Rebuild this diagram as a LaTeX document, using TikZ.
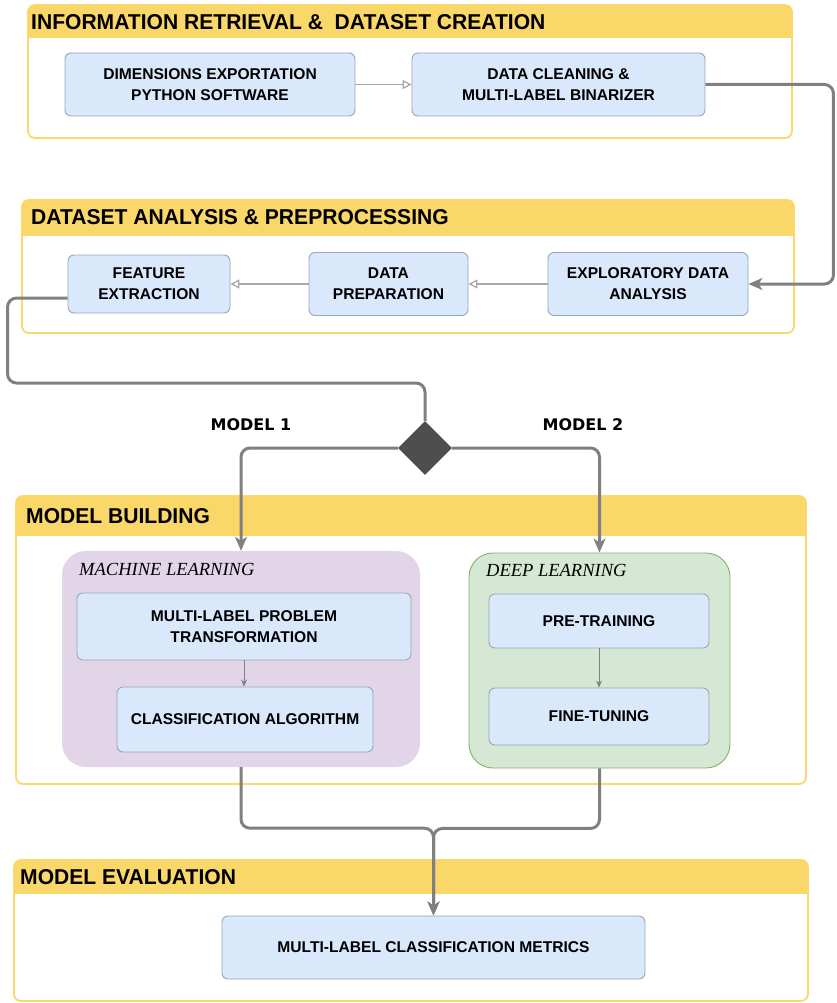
\documentclass[tikz,border=0pt]{standalone}
\usepackage{fontspec}
\setmainfont{Liberation Sans}
\newfontfamily\hdfont{Liberation Sans}[FakeStretch=0.98]
\newfontfamily\tms{Liberation Serif}
\newfontfamily\dvs{DejaVu Sans}
\usetikzlibrary{arrows.meta,shapes.geometric}
\definecolor{hdr}{HTML}{FAD769}
\definecolor{secline}{HTML}{F7D96E}
\definecolor{boxfill}{HTML}{DAE8FC}
\definecolor{boxline}{HTML}{98A6B8}
\definecolor{mlfill}{HTML}{E1D5E7}
\definecolor{dlfill}{HTML}{D5E8D4}
\definecolor{dlline}{HTML}{82B366}
\definecolor{conn}{HTML}{808080}
\definecolor{lightc}{HTML}{A8A8A8}
\definecolor{dia}{HTML}{4D4D4D}
\begin{document}
\begin{tikzpicture}[x=1pt,y=-1pt,
 blk/.style={draw=boxline, fill=boxfill, rounded corners=6pt, line width=0.9pt, align=center,
   font=\fontsize{15.6}{21}\selectfont\bfseries, inner sep=0pt},
 sec/.style={draw=secline, line width=1.8pt, rounded corners=7pt, inner sep=0pt},
 ttl/.style={font=\hdfont\fontsize{21.5}{24}\selectfont\bfseries, anchor=west, inner sep=0pt},
 grp/.style={rounded corners=24pt, inner sep=0pt},
 flow/.style={draw=conn, line width=3pt, rounded corners=9pt},
 flowarr/.style={flow, -{Stealth[length=14pt,width=12pt,inset=4pt]}},
 lightarr/.style={draw=lightc, line width=1.3pt, -{Triangle[open,length=9pt,width=9pt]}},
 smallarr/.style={draw=conn, line width=1pt, -{Stealth[length=7pt,width=6pt]}},
 mlabel/.style={font=\dvs\bfseries\fontsize{16}{18}\selectfont, inner sep=0pt},
 glabel/.style={font=\tms\itshape\fontsize{18.5}{20}\selectfont, anchor=west, inner sep=0pt},
]
\useasboundingbox (0,0) rectangle (837,1003);

% ---------- Section 1 ----------
\node[sec, minimum width=764pt, minimum height=133pt] (s1) at (410,71.5) {};
\begin{scope}\clip (26,3) rectangle (794,38);
\fill[hdr, rounded corners=7pt] (28,5) rectangle (792,80);\end{scope}
\node[ttl] (t1) at (31,22) {INFORMATION RETRIEVAL \&\ \ DATASET CREATION};
\node[blk, minimum width=290pt, minimum height=63pt] (dim) at (210,84.5) {DIMENSIONS EXPORTATION\\PYTHON SOFTWARE};
\node[blk, minimum width=293pt, minimum height=63pt] (dc) at (558.5,84.5) {DATA CLEANING \&\\MULTI-LABEL BINARIZER};

% ---------- Section 2 ----------
\node[sec, minimum width=772pt, minimum height=133pt] (s2) at (408,266.5) {};
\begin{scope}\clip (20,198) rectangle (796,235);
\fill[hdr, rounded corners=7pt] (22,200) rectangle (794,280);\end{scope}
\node[ttl] (t2) at (31,217) {DATASET ANALYSIS \& PREPROCESSING};
\node[blk, minimum width=162pt, minimum height=58pt] (fe) at (149,284) {FEATURE\\EXTRACTION};
\node[blk, minimum width=159pt, minimum height=63pt] (dp) at (388.5,284) {DATA\\PREPARATION};
\node[blk, minimum width=200pt, minimum height=63pt] (eda) at (648,284) {EXPLORATORY DATA\\ANALYSIS};

% ---------- Section 3 ----------
\node[sec, minimum width=790pt, minimum height=288pt] (s3) at (411,640) {};
\begin{scope}\clip (14,494) rectangle (808,535);
\fill[hdr, rounded corners=7pt] (16,496) rectangle (806,580);\end{scope}
\node[ttl] (t3) at (26,516) {MODEL BUILDING};

\node[grp, fill=mlfill, minimum width=358pt, minimum height=216pt] (ml) at (241,659) {};
\node[grp, fill=dlfill, draw=dlline, line width=0.9pt, minimum width=261pt, minimum height=215pt] (dl) at (599.5,660.5) {};
\node[glabel] (mlt) at (79,569) {MACHINE LEARNING};
\node[glabel] (dlt) at (486,570) {DEEP LEARNING};

\node[blk, minimum width=334pt, minimum height=67pt] (mlpt) at (244,626.5) {MULTI-LABEL PROBLEM\\TRANSFORMATION};
\node[blk, minimum width=256pt, minimum height=65pt] (ca) at (245,719.5) {CLASSIFICATION ALGORITHM};
\node[blk, minimum width=220pt, minimum height=54pt] (pt) at (599,621) {PRE-TRAINING};
\node[blk, minimum width=220pt, minimum height=57pt] (ft) at (599,716.5) {FINE-TUNING};

% ---------- Section 4 ----------
\node[sec, minimum width=794pt, minimum height=141pt] (s4) at (411,930.5) {};
\begin{scope}\clip (12,858) rectangle (810,893);
\fill[hdr, rounded corners=7pt] (14,860) rectangle (808,940);\end{scope}
\node[ttl] (t4) at (20,877) {MODEL EVALUATION};
\node[blk, minimum width=423pt, minimum height=63pt] (met) at (433.5,947.5) {MULTI-LABEL CLASSIFICATION METRICS};

% ---------- Decision ----------
\node[diamond, fill=dia, minimum width=54pt, minimum height=54pt, inner sep=0pt] (dec) at (425,448) {};
\node[mlabel] (m1) at (251,425) {MODEL 1};
\node[mlabel] (m2) at (583,425) {MODEL 2};

% ---------- Connectors ----------
\draw[lightarr] (dim.east) -- (dc.west);
\draw[lightarr] (eda.west) -- (dp.east);
\draw[lightarr] (dp.west) -- (fe.east);
\draw[flowarr] (dc.east) -- ++(128,0) |- (eda.east);
\draw[flow] ([yshift=-14pt]fe.west) -| ++(-60,85) -| (dec.north);
\draw[flowarr] (dec.west) -| (ml.north);
\draw[flowarr] (dec.east) -| (dl.north);
\draw[smallarr] (mlpt.south) -- (mlpt.south |- ca.north);
\draw[smallarr] (pt.south) -- (ft.north);
\draw[flowarr] (ml.south) -- ++(0,61) -| (met.north);
\draw[flowarr] (dl.south) -- ++(0,60) -| (met.north);
\end{tikzpicture}
\end{document}
